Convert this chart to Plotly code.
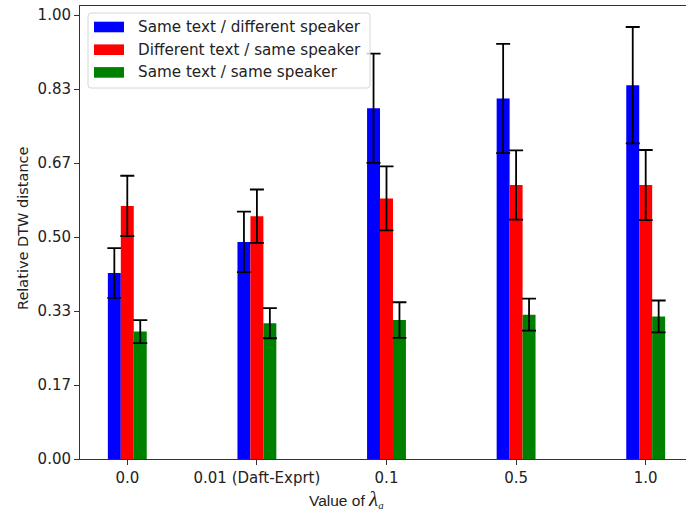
import plotly.graph_objects as go

# Values of lambda_a compared
categories = ["0.0", "0.01 (Daft-Exprt)", "0.1", "0.5", "1.0"]

series_names = [
    "Same text / different speaker",
    "Different text / same speaker",
    "Same text / same speaker",
]
series_colors = ["#0000ff", "#ff0000", "#008000"]

same_text_diff_speaker = [0.419, 0.489, 0.790, 0.812, 0.842]
same_text_diff_speaker_err = [0.056, 0.068, 0.123, 0.123, 0.131]

diff_text_same_speaker = [0.570, 0.547, 0.587, 0.617, 0.617]
diff_text_same_speaker_err = [0.068, 0.060, 0.072, 0.078, 0.079]

same_text_same_speaker = [0.287, 0.306, 0.313, 0.325, 0.321]
same_text_same_speaker_err = [0.026, 0.034, 0.040, 0.036, 0.036]

y_tick_values = [0, 1 / 6, 2 / 6, 3 / 6, 4 / 6, 5 / 6, 1.0]
y_tick_labels = ["0.00", "0.17", "0.33", "0.50", "0.67", "0.83", "1.00"]

values = [same_text_diff_speaker, diff_text_same_speaker, same_text_same_speaker]
errors = [same_text_diff_speaker_err, diff_text_same_speaker_err, same_text_same_speaker_err]

W, H = 686, 511
L, R, T, B = 80, 0, 6, 52
PW, PH = W - L - R, H - T - B

FONT = "DejaVu Sans"
TXT = "#222222"
AX = "#333333"


def px(x):
    return (x - L) / PW


def py(y):
    return (H - B - y) / PH


fig = go.Figure()
for name, color, vals, errs in zip(series_names, series_colors, values, errors):
    fig.add_trace(go.Bar(
        x=categories, y=vals, name=name,
        marker=dict(color=color, line=dict(width=0)),
        error_y=dict(type="data", array=errs, color="black", thickness=1.8, width=7),
        showlegend=False,
    ))

shapes = []
annotations = []

# legend box with wide colour patches
lx0, ly0, lx1, ly1, rad = 88, 13, 370, 88, 3
path = (
    f"M {px(lx0 + rad)},{py(ly0)} L {px(lx1 - rad)},{py(ly0)} "
    f"Q {px(lx1)},{py(ly0)} {px(lx1)},{py(ly0 + rad)} "
    f"L {px(lx1)},{py(ly1 - rad)} Q {px(lx1)},{py(ly1)} {px(lx1 - rad)},{py(ly1)} "
    f"L {px(lx0 + rad)},{py(ly1)} Q {px(lx0)},{py(ly1)} {px(lx0)},{py(ly1 - rad)} "
    f"L {px(lx0)},{py(ly0 + rad)} Q {px(lx0)},{py(ly0)} {px(lx0 + rad)},{py(ly0)} Z"
)
shapes.append(dict(type="path", path=path, xref="paper", yref="paper",
                   fillcolor="rgba(255,255,255,0.8)", line=dict(color="#d6d6d6", width=1),
                   layer="above"))
for i, (name, color) in enumerate(zip(series_names, series_colors)):
    cy = 27 + i * 22.7
    shapes.append(dict(type="rect", xref="paper", yref="paper",
                       x0=px(94), x1=px(124), y0=py(cy - 5.3), y1=py(cy + 5.3),
                       fillcolor=color, line=dict(width=0), layer="above"))
    annotations.append(dict(text=name, xref="paper", yref="paper",
                            x=px(136), y=py(cy), xanchor="left", yanchor="middle",
                            showarrow=False, font=dict(family=FONT, size=15.2, color=TXT)))

# axis titles
annotations.append(dict(
    text='Value of <span style="font-family:\'Liberation Serif\';font-size:21px"><i>λ</i></span>'
         '<sub><span style="font-family:\'Liberation Serif\'"><i>a</i></span></sub>',
    xref="paper", yref="paper", x=px(346), y=py(499), xanchor="center", yanchor="middle",
    showarrow=False, font=dict(family="Liberation Sans", size=15.5, color=TXT)))
annotations.append(dict(
    text="Relative DTW distance", textangle=-90,
    xref="paper", yref="paper", x=px(23), y=py(228), xanchor="center", yanchor="middle",
    showarrow=False, font=dict(family=FONT, size=14.5, color=TXT)))

fig.update_layout(
    width=W, height=H,
    margin=dict(l=L, r=R, t=T, b=B),
    paper_bgcolor="white", plot_bgcolor="white",
    barmode="group", bargap=0.7, bargroupgap=0,
    shapes=shapes, annotations=annotations,
    showlegend=False,
)
fig.update_xaxes(
    type="category", range=[-0.365, 4.311],
    showline=True, linecolor=AX, linewidth=1, mirror=True,
    ticks="outside", ticklen=5, tickwidth=1, tickcolor=AX,
    showgrid=False, zeroline=False,
    tickfont=dict(family=FONT, size=15, color=TXT),
)
fig.update_yaxes(
    range=[0, 1.0203],
    tickvals=y_tick_values, ticktext=y_tick_labels,
    showline=True, linecolor=AX, linewidth=1, mirror=False,
    ticks="outside", ticklen=5, tickwidth=1, tickcolor=AX,
    showgrid=False, zeroline=False,
    tickfont=dict(family=FONT, size=15, color=TXT),
)

fig.write_html("out.html")
